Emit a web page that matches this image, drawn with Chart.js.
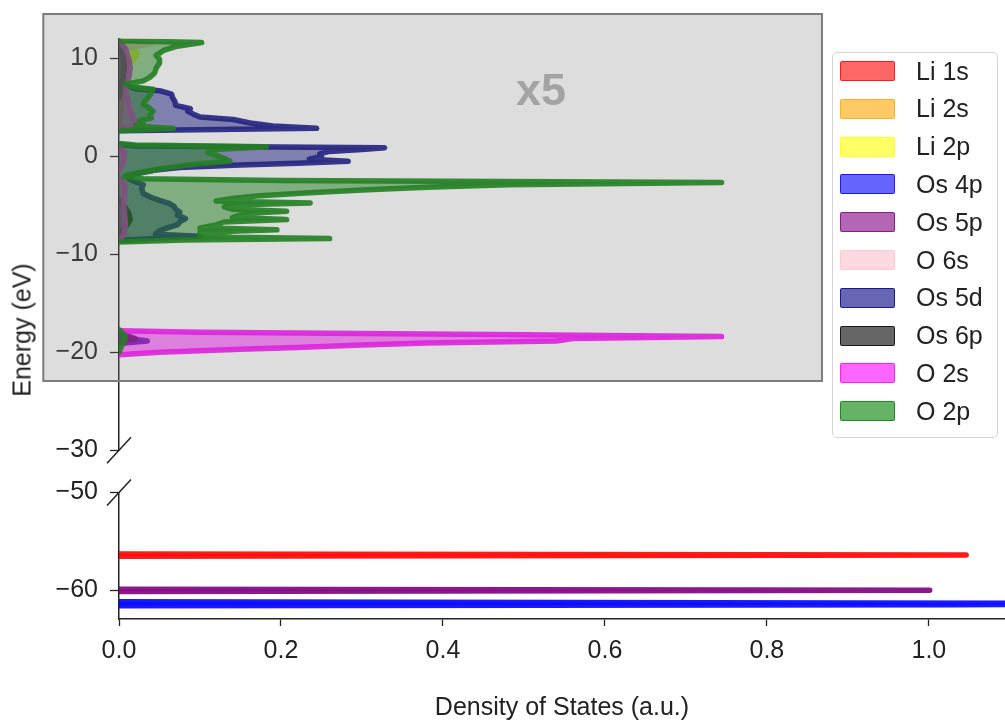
<!DOCTYPE html>
<html>
<head>
<meta charset="utf-8">
<title>Projected DOS</title>
<script src="https://cdn.jsdelivr.net/npm/chart.js@4.4.1/dist/chart.umd.min.js"></script>
<style>
    body { margin: 0; background: #fff; }
    #figure { position: relative; width: 1005px; height: 721px; overflow: hidden; font-family: "Liberation Sans", Arial, sans-serif; color: #222; }
    #top-chart { position: absolute; left: 0; top: 0; }
    #bottom-chart { position: absolute; left: 0; top: 470px; }
    #y-title { position: absolute; left: 22px; top: 330px; transform: translate(-50%, -50%) rotate(-90deg); font-size: 25px; white-space: nowrap; }
    #zoom-note { position: absolute; left: 541px; top: 89px; transform: translate(-50%, -50%); font-size: 45px; font-weight: bold; color: #a3a3a3; line-height: 1; }
    #legend { position: absolute; left: 832px; top: 52px; width: 164px; height: 384px; border: 1px solid #d4d4d4; border-radius: 5px; background: rgba(255, 255, 255, 0.85); }
    .item { position: absolute; left: 7px; height: 30px; display: flex; align-items: center; font-size: 25px; white-space: nowrap; }
    .patch { display: inline-block; width: 53px; height: 18px; border: 1px solid; border-radius: 2px; margin-right: 21px; }
</style>
</head>
<body>
<div id="figure">
    <canvas id="top-chart" width="1005" height="470"></canvas>
    <canvas id="bottom-chart" width="1005" height="251"></canvas>
    <div id="y-title">Energy (eV)</div>
    <div id="zoom-note">x5</div>
    <div id="legend"></div>
</div>
<script>
// projected DOS, pairs are [energy (eV), DOS as drawn]
// valence window is drawn x5, so those numbers are already the scaled ones
var species = ["Li 1s", "Li 2s", "Li 2p", "Os 4p", "Os 5p", "O 6s", "Os 5d", "Os 6p", "O 2s", "O 2p"];

var li2sValence = [
    [[3.0, 0], [5.0, 0.003], [8.0, 0.004], [11.0, 0.003], [11.8, 0]]
];
var li2pValence = [
    [[9.2, 0], [9.6, 0.015], [10.1, 0.02], [10.5, 0.022], [10.9, 0.018], [11.3, 0.012], [11.7, 0]]
];
var o6sValence = [
    [[-8.5, 0], [-8.2, 0.012], [-7.9, 0.008], [-7.6, 0]],
    [[10.8, 0], [11.2, 0.02], [11.5, 0.04], [11.75, 0.03], [11.9, 0]]
];
var os5dValence = [
    [[-19.1, 0], [-18.85, 0.035], [-18.6, 0.012], [-18.3, 0.003], [-18.0, 0]],
    [[-8.6, 0], [-8.35, 0.05], [-8.15, 0.1], [-7.95, 0.045], [-7.6, 0.05], [-7.3, 0.06], [-7.0, 0.072],
     [-6.7, 0.075], [-6.35, 0.082], [-6.0, 0.072], [-5.7, 0.075], [-5.4, 0.07], [-5.1, 0.068], [-4.8, 0.062],
     [-4.5, 0.05], [-4.2, 0.04], [-3.8, 0.03], [-3.3, 0.028], [-2.9, 0.03], [-2.6, 0.02], [-2.3, 0.012],
     [-2.0, 0.012], [-1.7, 0.026], [-1.4, 0.045], [-1.15, 0.075], [-0.9, 0.15], [-0.7, 0.22], [-0.5, 0.283],
     [-0.3, 0.235], [0.0, 0.25], [0.25, 0.248], [0.5, 0.26], [0.7, 0.3], [0.88, 0.328], [1.05, 0.02], [1.2, 0]],
    [[2.6, 0], [2.85, 0.244], [3.1, 0.19], [3.4, 0.162], [3.75, 0.141], [4.0, 0.1], [4.3, 0.092], [4.6, 0.085],
     [4.85, 0.088], [5.2, 0.07], [5.6, 0.069], [6.0, 0.066], [6.35, 0.065], [6.7, 0.05], [6.9, 0.02], [7.2, 0.008],
     [8.0, 0.006], [9.0, 0.005], [10.0, 0.006], [11.0, 0.005], [11.8, 0]]
];
var os6pValence = [
    [[-19.0, 0], [-18.6, 0.02], [-18.3, 0.01], [-18.0, 0]],
    [[-8.0, 0], [-7.2, 0.008], [-6.5, 0.014], [-5.8, 0.012], [-5.0, 0.006], [-4.5, 0]],
    [[6.0, 0], [8.0, 0.005], [9.5, 0.008], [10.5, 0.005], [11.5, 0]]
];
var o2sValence = [
    [[-20.25, 0], [-20.0, 0.05], [-19.7, 0.15], [-19.5, 0.22], [-19.25, 0.3], [-19.05, 0.38], [-18.85, 0.54],
     [-18.6, 0.56], [-18.4, 0.744], [-18.2, 0.5], [-17.95, 0.1], [-17.8, 0]],
    [[-8.5, 0], [-8.0, 0.006], [-7.0, 0.008], [-6.0, 0.007], [-5.0, 0.006], [-4.0, 0.007], [-3.0, 0.008],
     [-2.5, 0.004], [-2.2, 0]],
    [[-1.5, 0], [-0.5, 0.006], [0.3, 0.007], [1.0, 0]],
    [[2.7, 0], [3.0, 0.012], [3.3, 0.026], [3.6, 0.02], [4.2, 0.016], [5.0, 0.013], [6.0, 0.01], [7.0, 0.008],
     [8.0, 0.012], [9.0, 0.014], [10.0, 0.012], [11.0, 0.008], [11.8, 0]]
];
var o2pValence = [
    [[-20.0, 0], [-19.2, 0.004], [-18.5, 0.008], [-18.0, 0.004], [-17.7, 0]],
    [[-8.75, 0], [-8.55, 0.08], [-8.4, 0.26], [-8.25, 0.14], [-8.0, 0.1], [-7.75, 0.1], [-7.5, 0.195],
     [-7.3, 0.1], [-7.0, 0.12], [-6.7, 0.13], [-6.46, 0.207], [-6.25, 0.14], [-6.0, 0.15], [-5.8, 0.16],
     [-5.6, 0.207], [-5.4, 0.14], [-5.15, 0.13], [-4.95, 0.15], [-4.76, 0.236], [-4.55, 0.12], [-4.3, 0.14],
     [-4.05, 0.17], [-3.75, 0.23], [-3.45, 0.3], [-3.15, 0.38], [-2.9, 0.48], [-2.68, 0.744], [-2.48, 0.2],
     [-2.3, 0.03], [-2.1, 0.006], [-1.9, 0.01], [-1.6, 0.03], [-1.3, 0.05], [-1.0, 0.075], [-0.75, 0.1],
     [-0.5, 0.137], [-0.2, 0.13], [0.1, 0.12], [0.4, 0.11], [0.7, 0.12], [0.98, 0.182], [1.15, 0.02], [1.3, 0]],
    [[2.6, 0], [2.85, 0.067], [3.1, 0.02], [3.4, 0.03], [3.65, 0.026], [3.9, 0.04], [4.2, 0.038], [4.6, 0.042],
     [4.9, 0.038], [5.3, 0.03], [5.6, 0.032], [6.0, 0.036], [6.4, 0.04], [6.85, 0.042], [7.1, 0.015],
     [7.35, 0.008], [7.7, 0.03], [8.05, 0.038], [8.5, 0.044], [9.0, 0.046], [9.5, 0.05], [9.9, 0.05],
     [10.3, 0.046], [10.8, 0.055], [11.2, 0.07], [11.6, 0.102], [11.8, 0]]
];

// semicore levels, unscaled
var li1sCore = [
    [[-56.5, 0], [-56.38, 1.046], [-56.26, 0]]
];
var os5pCore = [
    [[-60.1, 0], [-59.98, 1.001], [-59.86, 0]]
];
var os4pCore = [
    [[-61.55, 0], [-61.45, 1.03], [-61.33, 1.4], [-61.22, 0.55], [-61.14, 0]]
];

var valence = [[], li2sValence, li2pValence, [], [], o6sValence, os5dValence, os6pValence, o2sValence, o2pValence];
var core = [li1sCore, [], [], os4pCore, os5pCore, [], [], [], [], []];

var yTicksTop = {min: -30, max: 12, step: 10};
var yTicksBottom = {min: -62.9, max: -50, step: 10};
var densityMax = 1.094;
var densityStep = 0.2;

// styles
var colors = ["255,0,0", "255,165,0", "255,255,0", "0,0,255", "128,0,128",
              "255,192,203", "0,0,128", "0,0,0", "255,0,255", "0,128,0"];
var insetBox = {xMin: -0.0935, xMax: 0.868, yMin: -22.93, yMax: 14.52};
var axisFont = {family: "'Liberation Sans', Arial, sans-serif", size: 25};

Chart.defaults.font.family = axisFont.family;
Chart.defaults.color = "#222";

function toPoints(bands) {
    var pts = [];
    bands.forEach(function(band, b) {
        if (b > 0) {
            pts.push({x: null, y: band[0][0]});
        }
        band.forEach(function(p) {
            pts.push({x: p[1], y: p[0]});
        });
    });
    return pts;
}

function buildDatasets(series) {
    return species.map(function(name, i) {
        return {
            label: name,
            data: toPoints(series[i]),
            borderColor: "rgba(" + colors[i] + ",0.9)",
            backgroundColor: "rgba(" + colors[i] + ",0.5)",
            borderWidth: 5.5,
            borderCapStyle: "round",
            borderJoinStyle: "round",
            fill: "origin",
            pointRadius: 0,
            tension: 0,
            clip: 0,
            order: species.length - i
        };
    });
}

function minusLabel(v) {
    return v < 0 ? "\u2212" + Math.abs(v) : String(v);
}

function yAxis(range) {
    return {
        type: "linear",
        min: range.min,
        max: range.max,
        afterFit: function(scale) {
            // keep the plot height set by the layout padding, not by the tick labels
            scale.width = 119;
            scale.paddingTop = 0;
            scale.paddingBottom = 0;
        },
        ticks: {stepSize: range.step, includeBounds: false, callback: minusLabel, font: axisFont, color: "#222", padding: 12},
        grid: {display: true, drawOnChartArea: false, drawTicks: true, tickLength: 9, tickColor: "#222", tickWidth: 1.3},
        border: {display: true, color: "#222", width: 1.5}
    };
}

// the // marks where the energy axis is cut
var breakMarks = {
    id: "breakMarks",
    afterDraw: function(chart, args, opts) {
        var a = chart.chartArea, ctx = chart.ctx;
        var y = opts.edge === "bottom" ? a.bottom : a.top;
        ctx.save();
        ctx.strokeStyle = "#222";
        ctx.lineWidth = 1.5;
        ctx.beginPath();
        ctx.moveTo(a.left - 12, y + 13);
        ctx.lineTo(a.left + 12, y - 13);
        ctx.stroke();
        ctx.restore();
    }
};

// grey frame over the x5 window
var insetShade = {
    id: "insetShade",
    afterDraw: function(chart) {
        var x = chart.scales.x, y = chart.scales.y, ctx = chart.ctx;
        var l = x.getPixelForValue(insetBox.xMin), r = x.getPixelForValue(insetBox.xMax);
        var t = y.getPixelForValue(insetBox.yMax), b = y.getPixelForValue(insetBox.yMin);
        ctx.save();
        ctx.fillStyle = "rgba(128,128,128,0.27)";
        ctx.fillRect(l, t, r - l, b - t);
        ctx.strokeStyle = "#7d7d7d";
        ctx.lineWidth = 2;
        ctx.strokeRect(l, t, r - l, b - t);
        ctx.restore();
    }
};

new Chart(document.getElementById("top-chart"), {
    type: "line",
    data: {datasets: buildDatasets(valence)},
    options: {
        indexAxis: "y",
        responsive: false,
        animation: false,
        events: [],
        layout: {padding: {top: 38.7, bottom: 19.7, left: 0, right: 0}},
        scales: {
            x: {type: "linear", display: false, min: 0, max: densityMax},
            y: yAxis(yTicksTop)
        },
        plugins: {
            legend: {display: false},
            tooltip: {enabled: false},
            breakMarks: {edge: "bottom"}
        }
    },
    plugins: [breakMarks, insetShade]
});

new Chart(document.getElementById("bottom-chart"), {
    type: "line",
    data: {datasets: buildDatasets(core)},
    options: {
        indexAxis: "y",
        responsive: false,
        animation: false,
        events: [],
        layout: {padding: {top: 22.5, bottom: 0, left: 0, right: 0}},
        scales: {
            x: {
                type: "linear",
                min: 0,
                max: densityMax,
                afterFit: function(scale) { scale.height = 102; },
                ticks: {
                    stepSize: densityStep,
                    includeBounds: false,
                    font: axisFont,
                    color: "#222",
                    padding: 10,
                    callback: function(v) { return v.toFixed(1); }
                },
                grid: {display: true, drawOnChartArea: false, drawTicks: true, tickLength: 7, tickColor: "#222", tickWidth: 1.3},
                border: {display: true, color: "#222", width: 1.5},
                title: {
                    display: true,
                    text: "Density of States (a.u.)",
                    font: {size: 25, lineHeight: 1},
                    color: "#222",
                    padding: {top: 0, bottom: 0}
                }
            },
            y: yAxis(yTicksBottom)
        },
        plugins: {
            legend: {display: false},
            tooltip: {enabled: false},
            breakMarks: {edge: "top"}
        }
    },
    plugins: [breakMarks]
});

// legend, same entries and colours as the datasets
var legend = document.getElementById("legend");
species.forEach(function(name, i) {
    var row = document.createElement("div");
    row.className = "item";
    row.style.top = (18 + 37.8 * i - 15) + "px";
    row.innerHTML = '<span class="patch" style="background:rgba(' + colors[i] + ',0.6);border-color:rgba(' + colors[i] + ',0.75)"></span>' +
        '<span>' + name + '</span>';
    legend.appendChild(row);
});
</script>
</body>
</html>
